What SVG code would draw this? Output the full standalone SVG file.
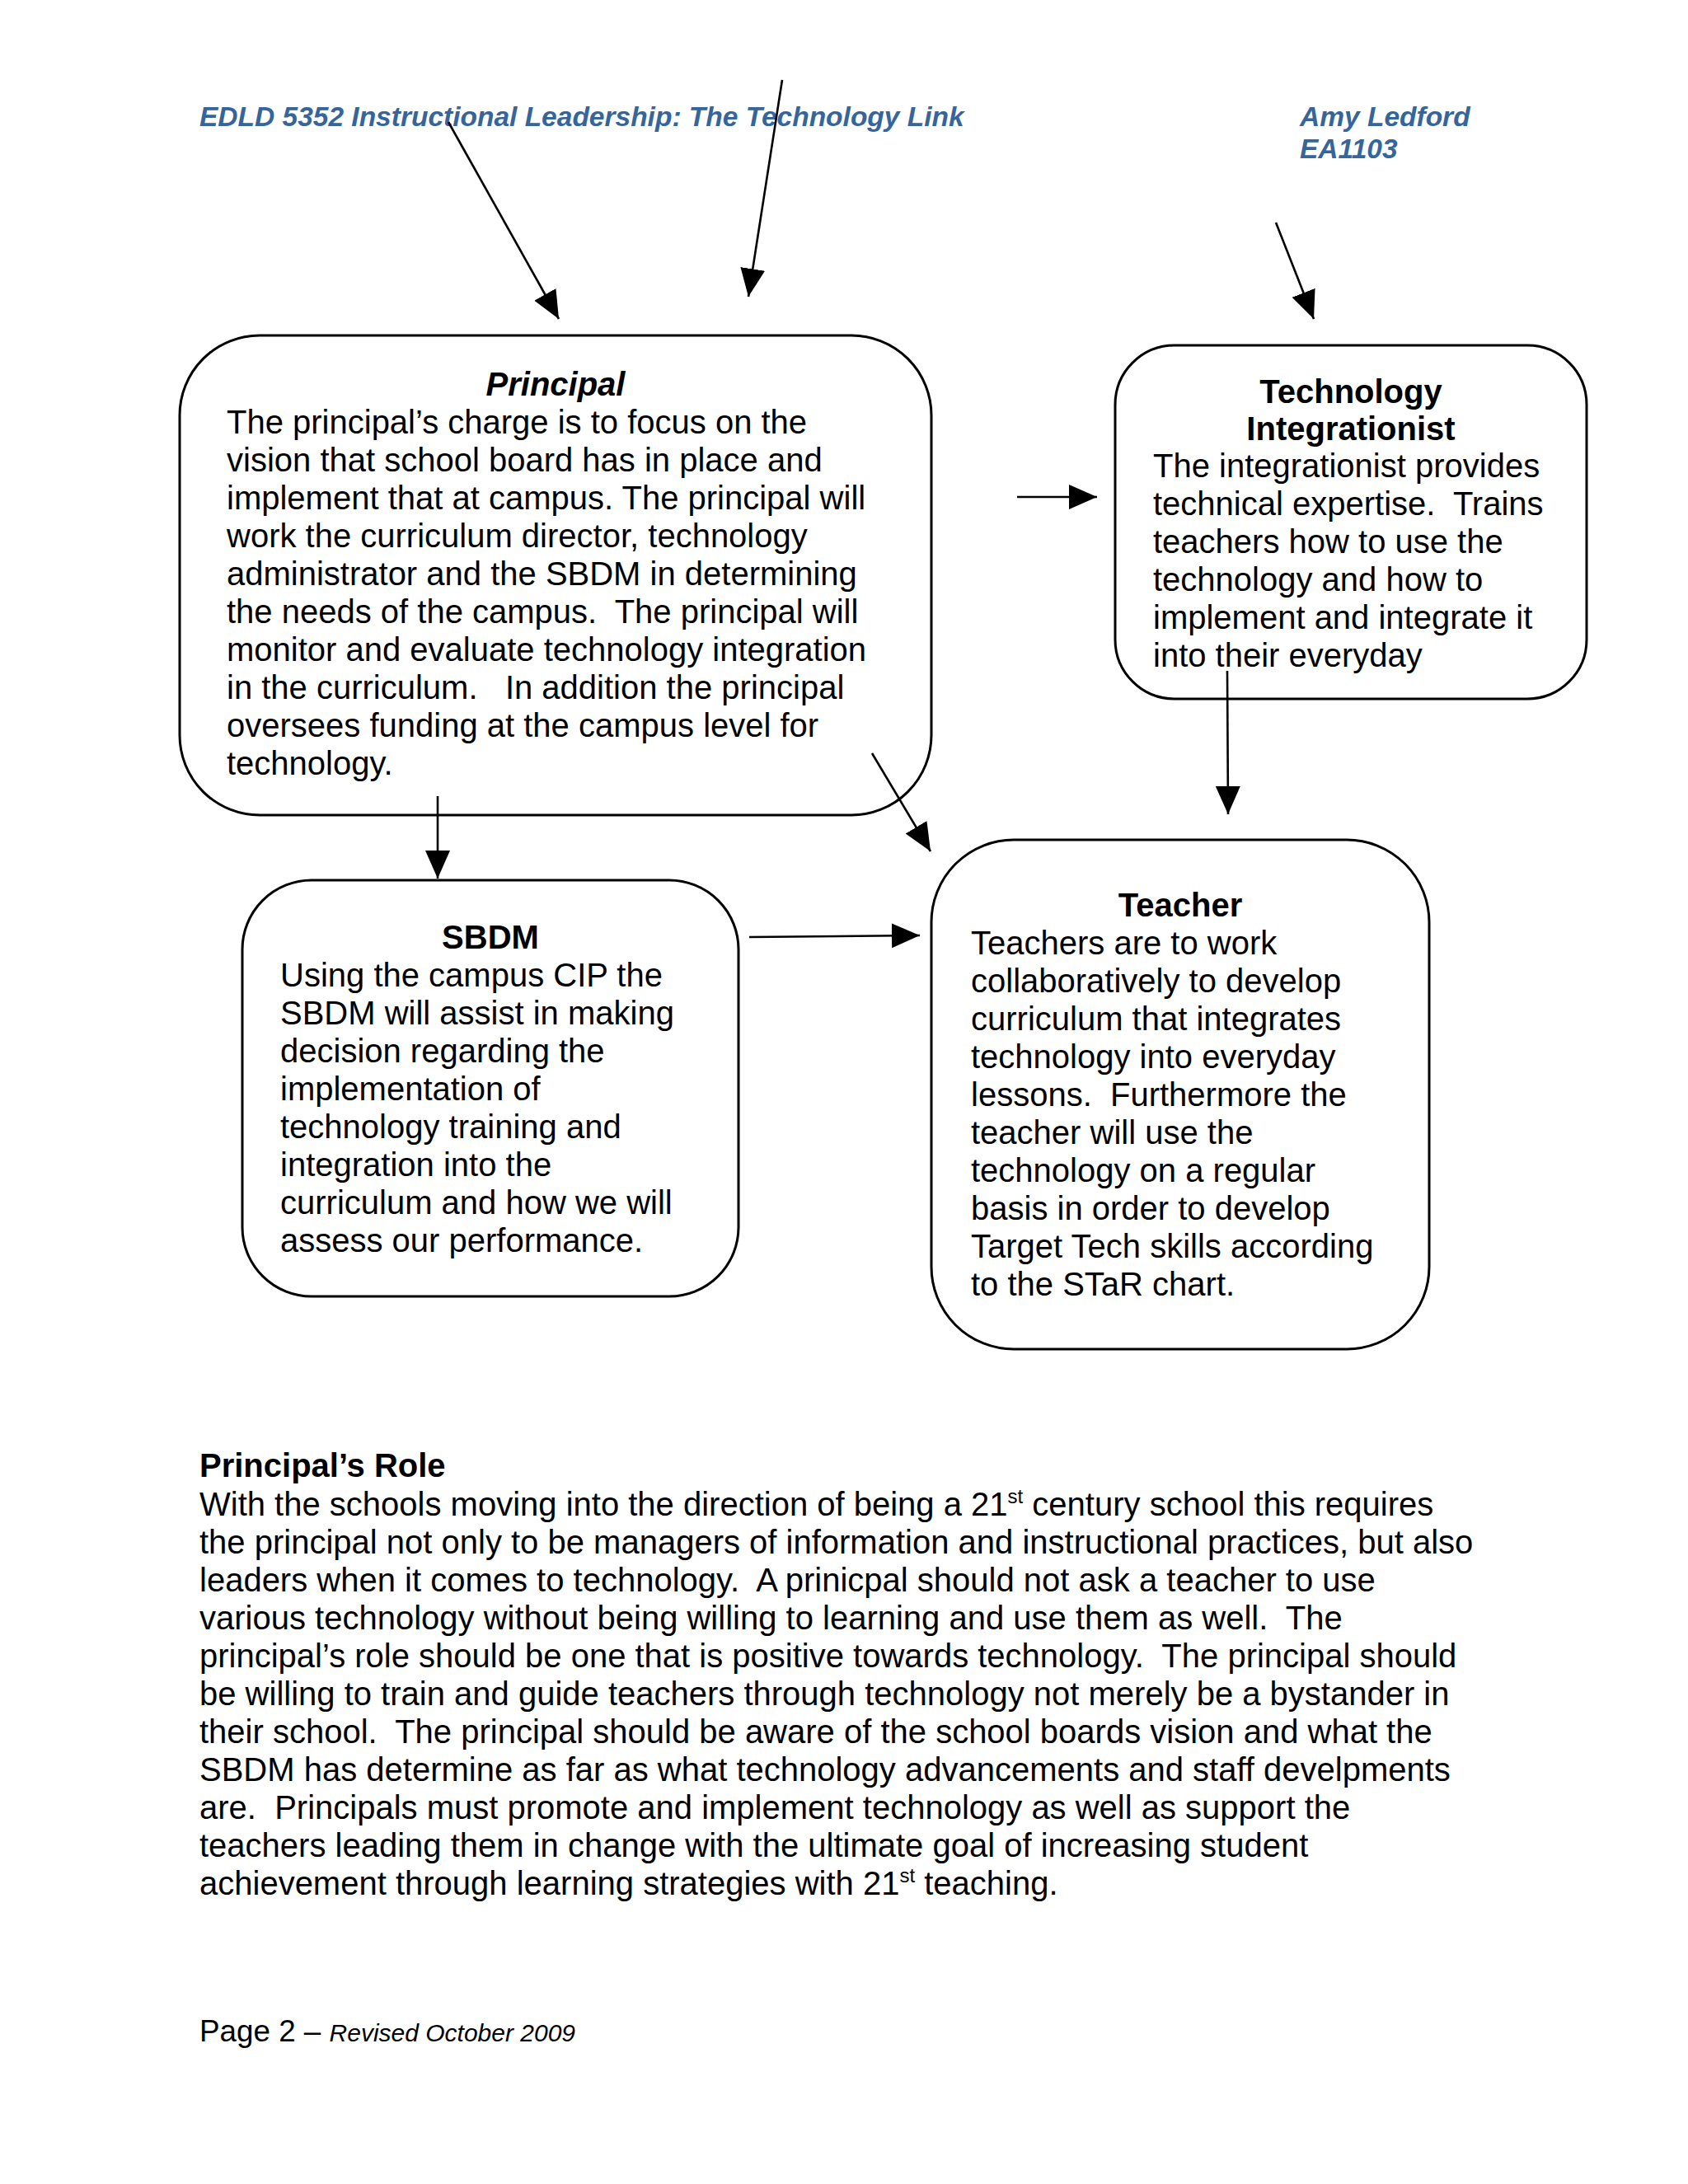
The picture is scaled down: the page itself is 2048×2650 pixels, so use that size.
<svg xmlns="http://www.w3.org/2000/svg" width="2048" height="2650" viewBox="0 0 2048 2650">
<defs>
<style>
text{font-family:"Liberation Sans",Arial,sans-serif;fill:#000;white-space:pre}
.hd{font-size:33.5px;font-weight:bold;font-style:italic;fill:#36659C}
.b{font-size:40px}
.t{font-size:40px;font-weight:bold}
.ti{font-size:40px;font-weight:bold;font-style:italic}
.sup{font-size:24px}
.box{fill:#fff;stroke:#000;stroke-width:3}
.con{stroke:#000;stroke-width:2.6;fill:none;marker-end:url(#ah)}
</style>
<marker id="ah" markerUnits="userSpaceOnUse" markerWidth="36" markerHeight="32" refX="34" refY="15" orient="auto">
<path d="M0,0 L34,15 L0,30 z" fill="#000"/>
</marker>
</defs>
<rect width="2048" height="2650" fill="#fff"/>

<g id="header">
<text class="hd" x="242" y="153">EDLD 5352 Instructional Leadership: The Technology Link</text>
<text class="hd" x="1577" y="153">Amy Ledford</text>
<text class="hd" x="1577" y="192">EA1103</text>
</g>

<g id="node-principal">
<rect class="box" x="218" y="407" width="912" height="582" rx="97" ry="97"/>
<text class="ti" x="674" y="480" text-anchor="middle">Principal</text>
<text class="b" x="275" y="526">The principal’s charge is to focus on the</text>
<text class="b" x="275" y="572">vision that school board has in place and</text>
<text class="b" x="275" y="618">implement that at campus. The principal will</text>
<text class="b" x="275" y="664">work the curriculum director, technology</text>
<text class="b" x="275" y="710">administrator and the SBDM in determining</text>
<text class="b" x="275" y="756">the needs of the campus.  The principal will</text>
<text class="b" x="275" y="802">monitor and evaluate technology integration</text>
<text class="b" x="275" y="848">in the curriculum.   In addition the principal</text>
<text class="b" x="275" y="894">oversees funding at the campus level for</text>
<text class="b" x="275" y="940">technology.</text>
</g>

<g id="node-tech">
<rect class="box" x="1353" y="419" width="572" height="429" rx="72" ry="72"/>
<text class="t" x="1639" y="489" text-anchor="middle">Technology</text>
<text class="t" x="1639" y="534" text-anchor="middle">Integrationist</text>
<text class="b" x="1399" y="579">The integrationist provides</text>
<text class="b" x="1399" y="625">technical expertise.  Trains</text>
<text class="b" x="1399" y="671">teachers how to use the</text>
<text class="b" x="1399" y="717">technology and how to</text>
<text class="b" x="1399" y="763">implement and integrate it</text>
<text class="b" x="1399" y="809">into their everyday</text>
</g>

<g id="node-sbdm">
<rect class="box" x="294" y="1068" width="602" height="505" rx="84" ry="84"/>
<text class="t" x="595" y="1151" text-anchor="middle">SBDM</text>
<text class="b" x="340" y="1197">Using the campus CIP the</text>
<text class="b" x="340" y="1243">SBDM will assist in making</text>
<text class="b" x="340" y="1289">decision regarding the</text>
<text class="b" x="340" y="1335">implementation of</text>
<text class="b" x="340" y="1381">technology training and</text>
<text class="b" x="340" y="1427">integration into the</text>
<text class="b" x="340" y="1473">curriculum and how we will</text>
<text class="b" x="340" y="1519">assess our performance.</text>
</g>

<g id="node-teacher">
<rect class="box" x="1130" y="1019" width="604" height="618" rx="100" ry="100"/>
<text class="t" x="1432" y="1112" text-anchor="middle">Teacher</text>
<text class="b" x="1178" y="1158">Teachers are to work</text>
<text class="b" x="1178" y="1204">collaboratively to develop</text>
<text class="b" x="1178" y="1250">curriculum that integrates</text>
<text class="b" x="1178" y="1296">technology into everyday</text>
<text class="b" x="1178" y="1342">lessons.  Furthermore the</text>
<text class="b" x="1178" y="1388">teacher will use the</text>
<text class="b" x="1178" y="1434">technology on a regular</text>
<text class="b" x="1178" y="1480">basis in order to develop</text>
<text class="b" x="1178" y="1526">Target Tech skills according</text>
<text class="b" x="1178" y="1572">to the STaR chart.</text>
</g>

<g id="connectors">
<line class="con" x1="544" y1="148" x2="678" y2="387"/>
<line class="con" x1="949" y1="97" x2="908" y2="360"/>
<line class="con" x1="1548" y1="270" x2="1594" y2="387"/>
<line class="con" x1="1234" y1="603" x2="1331" y2="603"/>
<line class="con" x1="531" y1="966" x2="531" y2="1066"/>
<line class="con" x1="1058" y1="914" x2="1129" y2="1033"/>
<line class="con" x1="909" y1="1137" x2="1116" y2="1135"/>
<line class="con" x1="1489" y1="814" x2="1490" y2="988"/>
</g>

<g id="role-text">
<text class="t" x="242" y="1792">Principal’s Role</text>
<text class="b" x="242" y="1839">With the schools moving into the direction of being a 21<tspan class="sup" dy="-15">st</tspan><tspan dy="15"> century school this requires</tspan></text>
<text class="b" x="242" y="1885">the principal not only to be managers of information and instructional practices, but also</text>
<text class="b" x="242" y="1931">leaders when it comes to technology.  A prinicpal should not ask a teacher to use</text>
<text class="b" x="242" y="1977">various technology without being willing to learning and use them as well.  The</text>
<text class="b" x="242" y="2023">principal’s role should be one that is positive towards technology.  The principal should</text>
<text class="b" x="242" y="2069">be willing to train and guide teachers through technology not merely be a bystander in</text>
<text class="b" x="242" y="2115">their school.  The principal should be aware of the school boards vision and what the</text>
<text class="b" x="242" y="2161">SBDM has determine as far as what technology advancements and staff develpments</text>
<text class="b" x="242" y="2207">are.  Principals must promote and implement technology as well as support the</text>
<text class="b" x="242" y="2253">teachers leading them in change with the ultimate goal of increasing student</text>
<text class="b" x="242" y="2299">achievement through learning strategies with 21<tspan class="sup" dy="-15">st</tspan><tspan dy="15"> teaching.</tspan></text>
</g>

<g id="footer">
<text x="242" y="2477" style="font-size:36.8px">Page 2 – <tspan style="font-size:30px;font-style:italic">Revised October 2009</tspan></text>
</g>
</svg>
